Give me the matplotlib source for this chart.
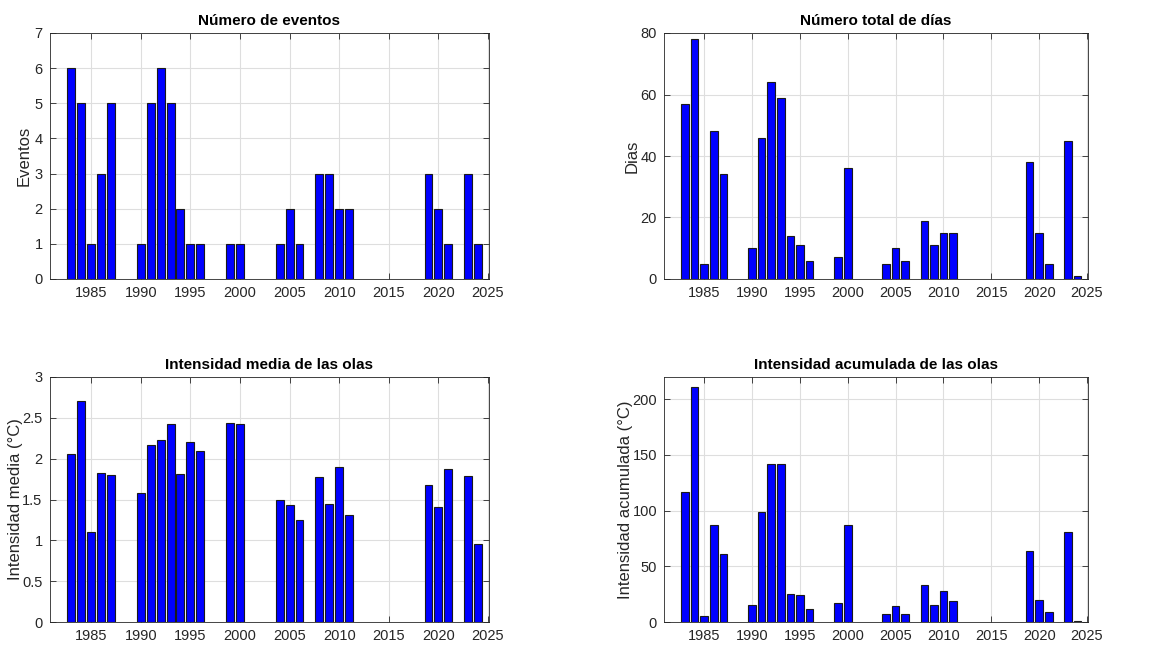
import matplotlib
matplotlib.use("Agg")
import matplotlib.pyplot as plt

years = [1983, 1984, 1985, 1986, 1987, 1990, 1991, 1992, 1993, 1994, 1995, 1996,
         1999, 2000, 2004, 2005, 2006, 2008, 2009, 2010, 2011, 2019, 2020, 2021,
         2023, 2024]
eventos = [6, 5, 1, 3, 5, 1, 5, 6, 5, 2, 1, 1, 1, 1, 1, 2, 1, 3, 3, 2, 2, 3, 2, 1, 3, 1]
dias = [57, 78, 5, 48, 34, 10, 46, 64, 59, 14, 11, 6, 7, 36, 5, 10, 6, 19, 11, 15, 15,
        38, 15, 5, 45, 1]
int_media = [2.06, 2.71, 1.10, 1.82, 1.80, 1.58, 2.17, 2.23, 2.42, 1.81, 2.21, 2.09,
             2.44, 2.42, 1.50, 1.43, 1.25, 1.77, 1.44, 1.90, 1.31, 1.68, 1.41, 1.87,
             1.79, 0.96]
int_acum = [117, 211, 5, 87, 61, 15, 99, 142, 142, 25, 24, 12, 17, 87, 7, 14, 7, 33,
            15, 28, 19, 64, 20, 9, 81, 1]

xticks = [1985, 1990, 1995, 2000, 2005, 2010, 2015, 2020, 2025]

plt.rcParams['font.family'] = ['Liberation Sans', 'DejaVu Sans']

W, H = 1160, 645
fig = plt.figure(figsize=(W / 100, H / 100), dpi=100)

def px_axes(l, r, t, b):
    return fig.add_axes([l / W, 1 - b / H, (r - l) / W, (b - t) / H])

panels = [
    (px_axes(49.5, 489, 33, 279), eventos, 'Número de eventos', 'Eventos', (0, 7),
     list(range(0, 8)), None, -0.040),
    (px_axes(664, 1088, 33, 279), dias, 'Número total de días', 'Dias', (0, 80),
     [0, 20, 40, 60, 80], None, -0.057),
    (px_axes(49.5, 489, 377, 622), int_media, 'Intensidad media de las olas',
     'Intensidad media (°C)', (0, 3), [0, 0.5, 1, 1.5, 2, 2.5, 3],
     ['0', '0.5', '1', '1.5', '2', '2.5', '3'], -0.060),
    (px_axes(664, 1088, 377, 622), int_acum, 'Intensidad acumulada de las olas',
     'Intensidad acumulada (°C)', (0, 220), [0, 50, 100, 150, 200], None, -0.073),
]

for ax, vals, title, ylabel, ylim, yt, ytl, lx in panels:
    ax.bar(years, vals, width=0.8, color='#0000ff', edgecolor='#1a1a1a', linewidth=0.8, zorder=3)
    ax.set_xlim(1980.8, 2025.1)
    ax.set_ylim(*ylim)
    ax.set_xticks(xticks)
    ax.set_yticks(yt)
    if ytl is not None:
        ax.set_yticklabels(ytl)
    ax.grid(True, color='#dedede', linewidth=0.8, zorder=0)
    ax.set_axisbelow(True)
    ax.tick_params(direction='in', top=True, right=True, length=4, width=0.6,
                   labelsize=10.5, colors='#262626', pad=5)
    for s in ax.spines.values():
        s.set_color('#262626')
        s.set_linewidth(0.6)
    ax.set_title(title, fontsize=11, fontweight='bold', pad=6)
    ax.set_ylabel(ylabel, fontsize=12, color='#262626')
    ax.yaxis.set_label_coords(lx, 0.5)

fig.savefig('out.png', dpi=100, facecolor='white')
